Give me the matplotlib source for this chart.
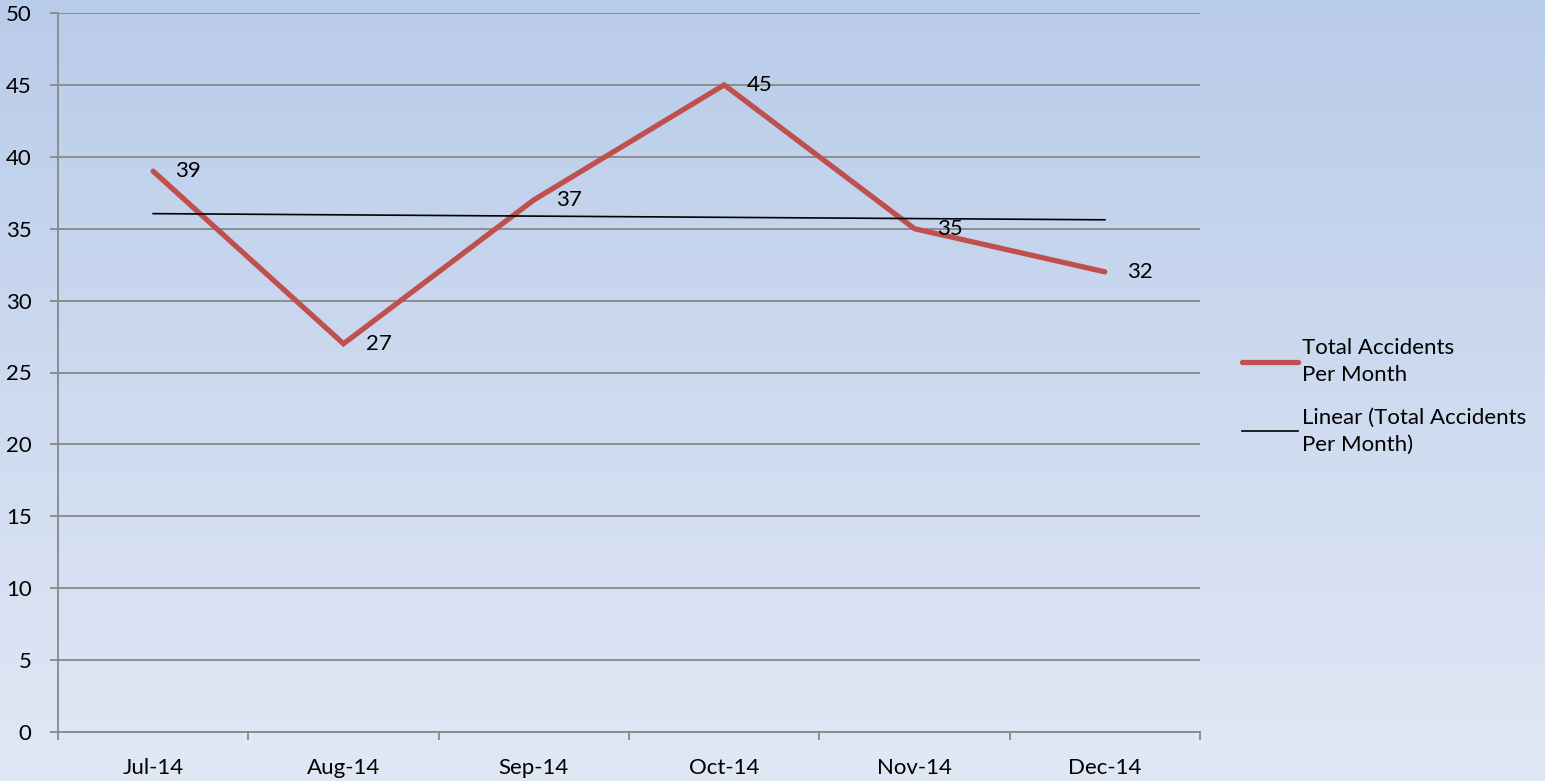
import numpy as np
import matplotlib.pyplot as plt
from matplotlib.colors import LinearSegmentedColormap

plt.rcParams['font.family'] = ['Lato', 'DejaVu Sans']

# --- Data ---
months = ["Jul-14", "Aug-14", "Sep-14", "Oct-14", "Nov-14", "Dec-14"]
accidents = [39, 27, 37, 45, 35, 32]
y_ticks = [0, 5, 10, 15, 20, 25, 30, 35, 40, 45, 50]

x = np.arange(len(months))
slope, intercept = np.polyfit(x, accidents, 1)
trend = slope * x + intercept

fig = plt.figure(figsize=(15.45, 7.81), dpi=100)

# --- Background gradient ---
bg = fig.add_axes([0, 0, 1, 1], zorder=-10)
grad = LinearSegmentedColormap.from_list("bg", ["#B9CCEA", "#E1E8F5"])
bg.imshow(np.linspace(0, 1, 256).reshape(-1, 1), aspect="auto", cmap=grad,
          extent=[0, 1, 0, 1], origin="upper")
bg.axis("off")

ax = fig.add_axes([58 / 1545, 49 / 781, 1142 / 1545, 719 / 781])
ax.set_facecolor("none")

red_line, = ax.plot(x, accidents, color="#C0504D", lw=3.8, solid_capstyle="round",
                    solid_joinstyle="miter", zorder=3, label="Total Accidents\nPer Month")
trend_line, = ax.plot(x, trend, color="black", lw=1.2, zorder=4,
                      label="Linear (Total Accidents\nPer Month)")

for xi, v in zip(x, accidents):
    ax.annotate(str(v), (xi, v), xytext=(16, 0), textcoords="offset points",
                va="center", ha="left", fontsize=16, zorder=5)

# --- Axes formatting ---
ax.set_xlim(-0.5, len(months) - 0.5)
ax.set_ylim(0, 50)
ax.set_yticks(y_ticks)
ax.set_xticks(x)
ax.set_xticklabels(months)
ax.set_xticks(np.arange(-0.5, len(months)), minor=True)
ax.tick_params(axis="x", which="major", length=0, pad=19, labelsize=16)
ax.tick_params(axis="x", which="minor", length=6, color="#888888", width=1.3)
ax.tick_params(axis="y", length=6, color="#888888", width=1.3, pad=13, labelsize=16)
ax.grid(True, axis="y", color="#888888", lw=1.3)
ax.set_axisbelow(True)
for s in ["top", "right"]:
    ax.spines[s].set_visible(False)
for s in ["left", "bottom"]:
    ax.spines[s].set_color("#888888")
    ax.spines[s].set_linewidth(1.3)

leg = fig.legend(handles=[red_line, trend_line], loc="upper left",
                 bbox_to_anchor=(1222 / 1545, 1 - 318 / 781), frameon=False,
                 fontsize=16, handlelength=2.5, handletextpad=0.2,
                 labelspacing=1.0)
for t in leg.get_texts():
    t.set_linespacing(1.45)

plt.savefig("out.png", dpi=100)
